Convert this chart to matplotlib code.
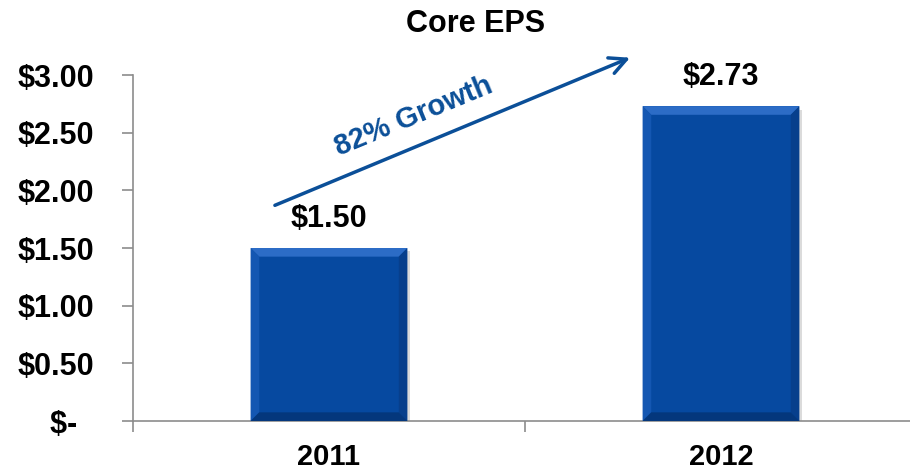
import numpy as np
import matplotlib.pyplot as plt
from matplotlib.patches import Polygon, Rectangle

# Data
years = ["2011", "2012"]
eps = [1.50, 2.73]
yticks = [0.0, 0.5, 1.0, 1.5, 2.0, 2.5, 3.0]
ytick_labels = ["$-  ", "$0.50", "$1.00", "$1.50", "$2.00", "$2.50", "$3.00"]

BLUE_TXT = "#0b4f98"
FONT = ["Liberation Sans", "DejaVu Sans"]
plt.rcParams["font.family"] = FONT

fig = plt.figure(figsize=(9.10, 4.73), dpi=100)
ax = fig.add_axes([133 / 910, 1 - 421 / 473, 784 / 910, 346 / 473])

x = np.arange(len(years))
width = 0.4
bars = ax.bar(x, eps, width=width, color="#0649a0", zorder=3)


# Bevel effect on each bar
def bevel(ax, xc, h, w, bx=0.022, by=0.075):
    x0, x1 = xc - w / 2, xc + w / 2
    # shadow
    ax.add_patch(Rectangle((x0 + 0.006, -0.03), w, h, color="#b8b8b8",
                           alpha=0.5, zorder=2, lw=0))
    faces = [
        ([(x0, h), (x1, h), (x1 - bx, h - by), (x0 + bx, h - by)], "#2c6cc6"),
        ([(x0, 0), (x0, h), (x0 + bx, h - by), (x0 + bx, by)], "#1457b2"),
        ([(x1, 0), (x1, h), (x1 - bx, h - by), (x1 - bx, by)], "#073f8c"),
        ([(x0, 0), (x1, 0), (x1 - bx, by), (x0 + bx, by)], "#04377c"),
    ]
    for pts, c in faces:
        ax.add_patch(Polygon(pts, closed=True, color=c, lw=0, zorder=4))


for xi, v in zip(x, eps):
    bevel(ax, xi, v, width)
    ax.text(xi, v + 0.12, f"${v:.2f}", ha="center", va="bottom",
            fontsize=22, fontweight="bold", color="black")

ax.set_xlim(-0.5, 1.5)
ax.set_ylim(0, 3.0)
ax.set_yticks(yticks)
ax.set_yticklabels(ytick_labels, fontsize=22, fontweight="bold")
ax.set_xticks([-0.5, 0.5, 1.5])
ax.set_xticklabels([])
ax.set_xticks(x, minor=True)
ax.set_xticklabels(years, minor=True, fontsize=21, fontweight="bold",
                   family=["Liberation Sans Narrow", "Liberation Sans"])
ax.tick_params(axis="x", which="minor", length=0, pad=16)
ax.tick_params(axis="x", which="major", length=8, color="#8c8c8c", width=1.2)
ax.tick_params(axis="y", length=8, color="#8c8c8c", width=1.2, pad=20)

for side in ["top", "right"]:
    ax.spines[side].set_visible(False)
for side in ["left", "bottom"]:
    ax.spines[side].set_color("#8c8c8c")
    ax.spines[side].set_linewidth(1.2)

# Growth arrow
growth = eps[1] / eps[0] - 1
ax.annotate("", xy=(1 - 0.232, eps[1] + 0.42), xytext=(-0.138, eps[0] + 0.37),
            arrowprops=dict(arrowstyle="->", color=BLUE_TXT, lw=2.5,
                            mutation_scale=30, shrinkA=0, shrinkB=0),
            annotation_clip=False, zorder=5)
ax.text(0.215, 2.64, f"{growth:.0%} Growth", color=BLUE_TXT, fontsize=21,
        fontweight="bold", rotation=22.5, ha="center", va="center",
        rotation_mode="anchor")

fig.text(476 / 910, 1 - 24 / 473, "Core EPS", ha="center", va="center",
         fontsize=22, fontweight="bold")

fig.savefig("out.png", dpi=100)
